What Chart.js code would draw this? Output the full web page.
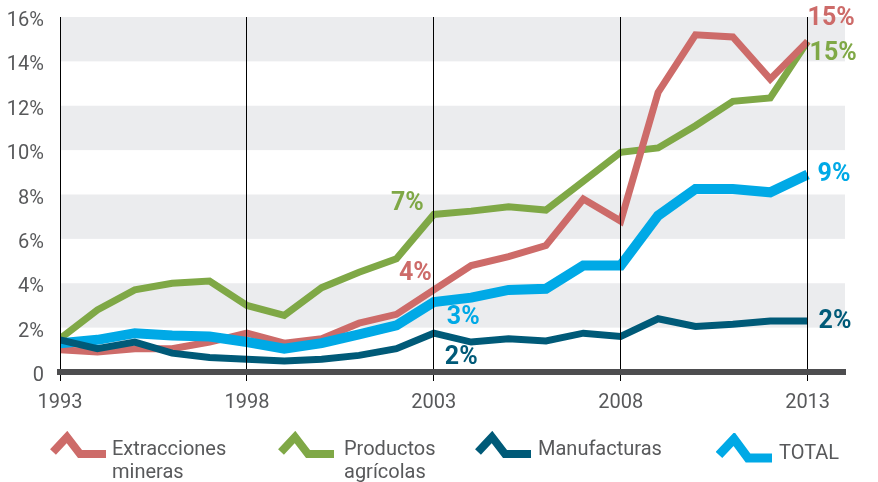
<!DOCTYPE html>
<html>
<head>
<meta charset="utf-8">
<script src="https://cdn.jsdelivr.net/npm/chart.js@4"></script>
<style>
  body { margin: 0; background: #fff; }
  #wrap { position: relative; width: 878px; height: 482px; overflow: hidden; font-family: Roboto, sans-serif; color: #58595B; }
  .leg { position: absolute; font-size: 20px; line-height: 23px; }
  .icon { position: absolute; }
</style>
</head>
<body>
<div id="wrap">
  <canvas id="myChart" width="878" height="482"></canvas>
  <svg class="icon" style="left:50px;top:431px" width="60" height="30"><polyline points="3,21 17,6 30,23 56,23" fill="none" stroke="#CD6B69" stroke-width="8"/></svg>
  <div class="leg" style="left:112px;top:437px">Extracciones<br>mineras</div>
  <svg class="icon" style="left:278px;top:431px" width="60" height="30"><polyline points="3,21 17,6 30,23 56,23" fill="none" stroke="#7FA846" stroke-width="8"/></svg>
  <div class="leg" style="left:344px;top:437px">Productos<br>agrícolas</div>
  <svg class="icon" style="left:475px;top:431px" width="60" height="30"><polyline points="3,21 17,6 30,23 56,23" fill="none" stroke="#005A78" stroke-width="8"/></svg>
  <div class="leg" style="left:538px;top:437px">Manufacturas</div>
  <svg class="icon" style="left:716px;top:433px" width="60" height="32"><polyline points="3,22 18,6 32,25 56,25" fill="none" stroke="#00A9E6" stroke-width="9"/></svg>
  <div class="leg" style="left:779px;top:441px">TOTAL</div>
</div>
<script>
const years = [1993, 1994, 1995, 1996, 1997, 1998, 1999, 2000, 2001, 2002, 2003,
               2004, 2005, 2006, 2007, 2008, 2009, 2010, 2011, 2012, 2013];
const yearTicks = [1993, 1998, 2003, 2008, 2013];
const mineras = [1.0, 0.9, 1.05, 1.05, 1.35, 1.75, 1.3, 1.5, 2.2, 2.6, 3.7, 4.8, 5.2, 5.7, 7.8, 6.8, 12.6, 15.2, 15.1, 13.2, 14.9];
const agricolas = [1.5, 2.8, 3.7, 4.0, 4.1, 3.0, 2.55, 3.8, 4.5, 5.1, 7.1, 7.25, 7.45, 7.3, 8.6, 9.9, 10.1, 11.1, 12.2, 12.35, 14.9];
const manufacturas = [1.45, 1.05, 1.35, 0.85, 0.65, 0.57, 0.5, 0.57, 0.75, 1.05, 1.75, 1.35, 1.5, 1.4, 1.75, 1.6, 2.4, 2.05, 2.15, 2.3, 2.3];
const total = [1.3, 1.45, 1.75, 1.65, 1.6, 1.35, 1.05, 1.3, 1.7, 2.1, 3.15, 3.35, 3.7, 3.75, 4.8, 4.8, 7.05, 8.25, 8.25, 8.1, 8.9];

// value labels written on the chart: dataset index, year, text
const valueLabels = [
    { ds: 0, year: 2013, text: '15%' },
    { ds: 1, year: 2013, text: '15%' },
    { ds: 3, year: 2013, text: '9%' },
    { ds: 2, year: 2013, text: '2%' },
    { ds: 1, year: 2003, text: '7%' },
    { ds: 0, year: 2003, text: '4%' },
    { ds: 3, year: 2003, text: '3%' },
    { ds: 2, year: 2003, text: '2%' }
];
// placement of those labels (pixels from the point)
const labelOffsets = [
    { dx: 0, dy: -23, align: 'left' },
    { dx: 2, dy: 12, align: 'left' },
    { dx: 10, dy: 0, align: 'left' },
    { dx: 11, dy: 1, align: 'left' },
    { dx: -10, dy: -11, align: 'right' },
    { dx: -2, dy: -16, align: 'right' },
    { dx: 13, dy: 16, align: 'left' },
    { dx: 11, dy: 25, align: 'left' }
];

const pts = arr => arr.map((v, i) => ({ x: years[i], y: v }));

const bandsPlugin = {
    id: 'bands',
    beforeDatasetsDraw(chart) {
        const { ctx, chartArea, scales } = chart;
        ctx.save();
        ctx.fillStyle = '#EBECEE';
        [[2, 4], [6, 8], [10, 12], [14, 16]].forEach(([a, b]) => {
            const y1 = scales.y.getPixelForValue(b);
            const y2 = scales.y.getPixelForValue(a);
            ctx.fillRect(chartArea.left, y1, chartArea.right - chartArea.left, y2 - y1);
        });
        ctx.restore();
    }
};

const labelsPlugin = {
    id: 'valueLabels',
    afterDraw(chart) {
        const { ctx, scales } = chart;
        ctx.save();
        ctx.font = 'bold 25px Roboto';
        ctx.textBaseline = 'middle';
        valueLabels.forEach((l, i) => {
            const ds = chart.data.datasets[l.ds];
            const v = ds.data[years.indexOf(l.year)].y;
            const off = labelOffsets[i];
            ctx.fillStyle = ds.borderColor;
            ctx.textAlign = off.align;
            ctx.fillText(l.text, scales.x.getPixelForValue(l.year) + off.dx, scales.y.getPixelForValue(v) + off.dy);
        });
        ctx.restore();
    }
};

const ctx = document.getElementById('myChart').getContext('2d');
const myChart = new Chart(ctx, {
    type: 'line',
    data: {
        datasets: [
            { label: 'Extracciones mineras', data: pts(mineras), borderColor: '#CD6B69', borderWidth: 7, order: 2 },
            { label: 'Productos agrícolas', data: pts(agricolas), borderColor: '#7FA846', borderWidth: 7, order: 3 },
            { label: 'Manufacturas', data: pts(manufacturas), borderColor: '#005A78', borderWidth: 7, order: 0 },
            { label: 'TOTAL', data: pts(total), borderColor: '#00A9E6', borderWidth: 10, order: 1 }
        ]
    },
    options: {
        responsive: false,
        animation: false,
        elements: {
            point: { radius: 0 },
            line: { tension: 0, borderJoinStyle: 'miter', borderCapStyle: 'butt' }
        },
        layout: { padding: { top: 17, right: 33, bottom: 70, left: 0 } },
        plugins: { legend: { display: false }, tooltip: { enabled: false } },
        scales: {
            x: {
                type: 'linear',
                min: 1993,
                max: 2014,
                afterBuildTicks: scale => { scale.ticks = yearTicks.map(v => ({ value: v })); },
                afterFit: scale => { scale.height = 40; },
                grid: { color: '#000', lineWidth: 1, tickLength: 9, tickColor: '#000', z: 1 },
                border: { display: true, color: '#4D4D4F', width: 6, z: 1 },
                ticks: {
                    color: '#58595B',
                    font: { family: 'Roboto', size: 20 },
                    padding: 10,
                    maxRotation: 0,
                    callback: v => String(v)
                }
            },
            y: {
                min: 0,
                max: 16,
                afterFit: scale => { scale.width = 60; scale.paddingTop = 0; scale.paddingBottom = 0; },
                grid: { display: false },
                border: { display: false },
                ticks: {
                    stepSize: 2,
                    color: '#58595B',
                    font: { family: 'Roboto', size: 20, lineHeight: 1 },
                    padding: 8,
                    labelOffset: 4,
                    callback: v => v === 0 ? '0' : v + '%'
                }
            }
        }
    },
    plugins: [bandsPlugin, labelsPlugin]
});
</script>
</body>
</html>
